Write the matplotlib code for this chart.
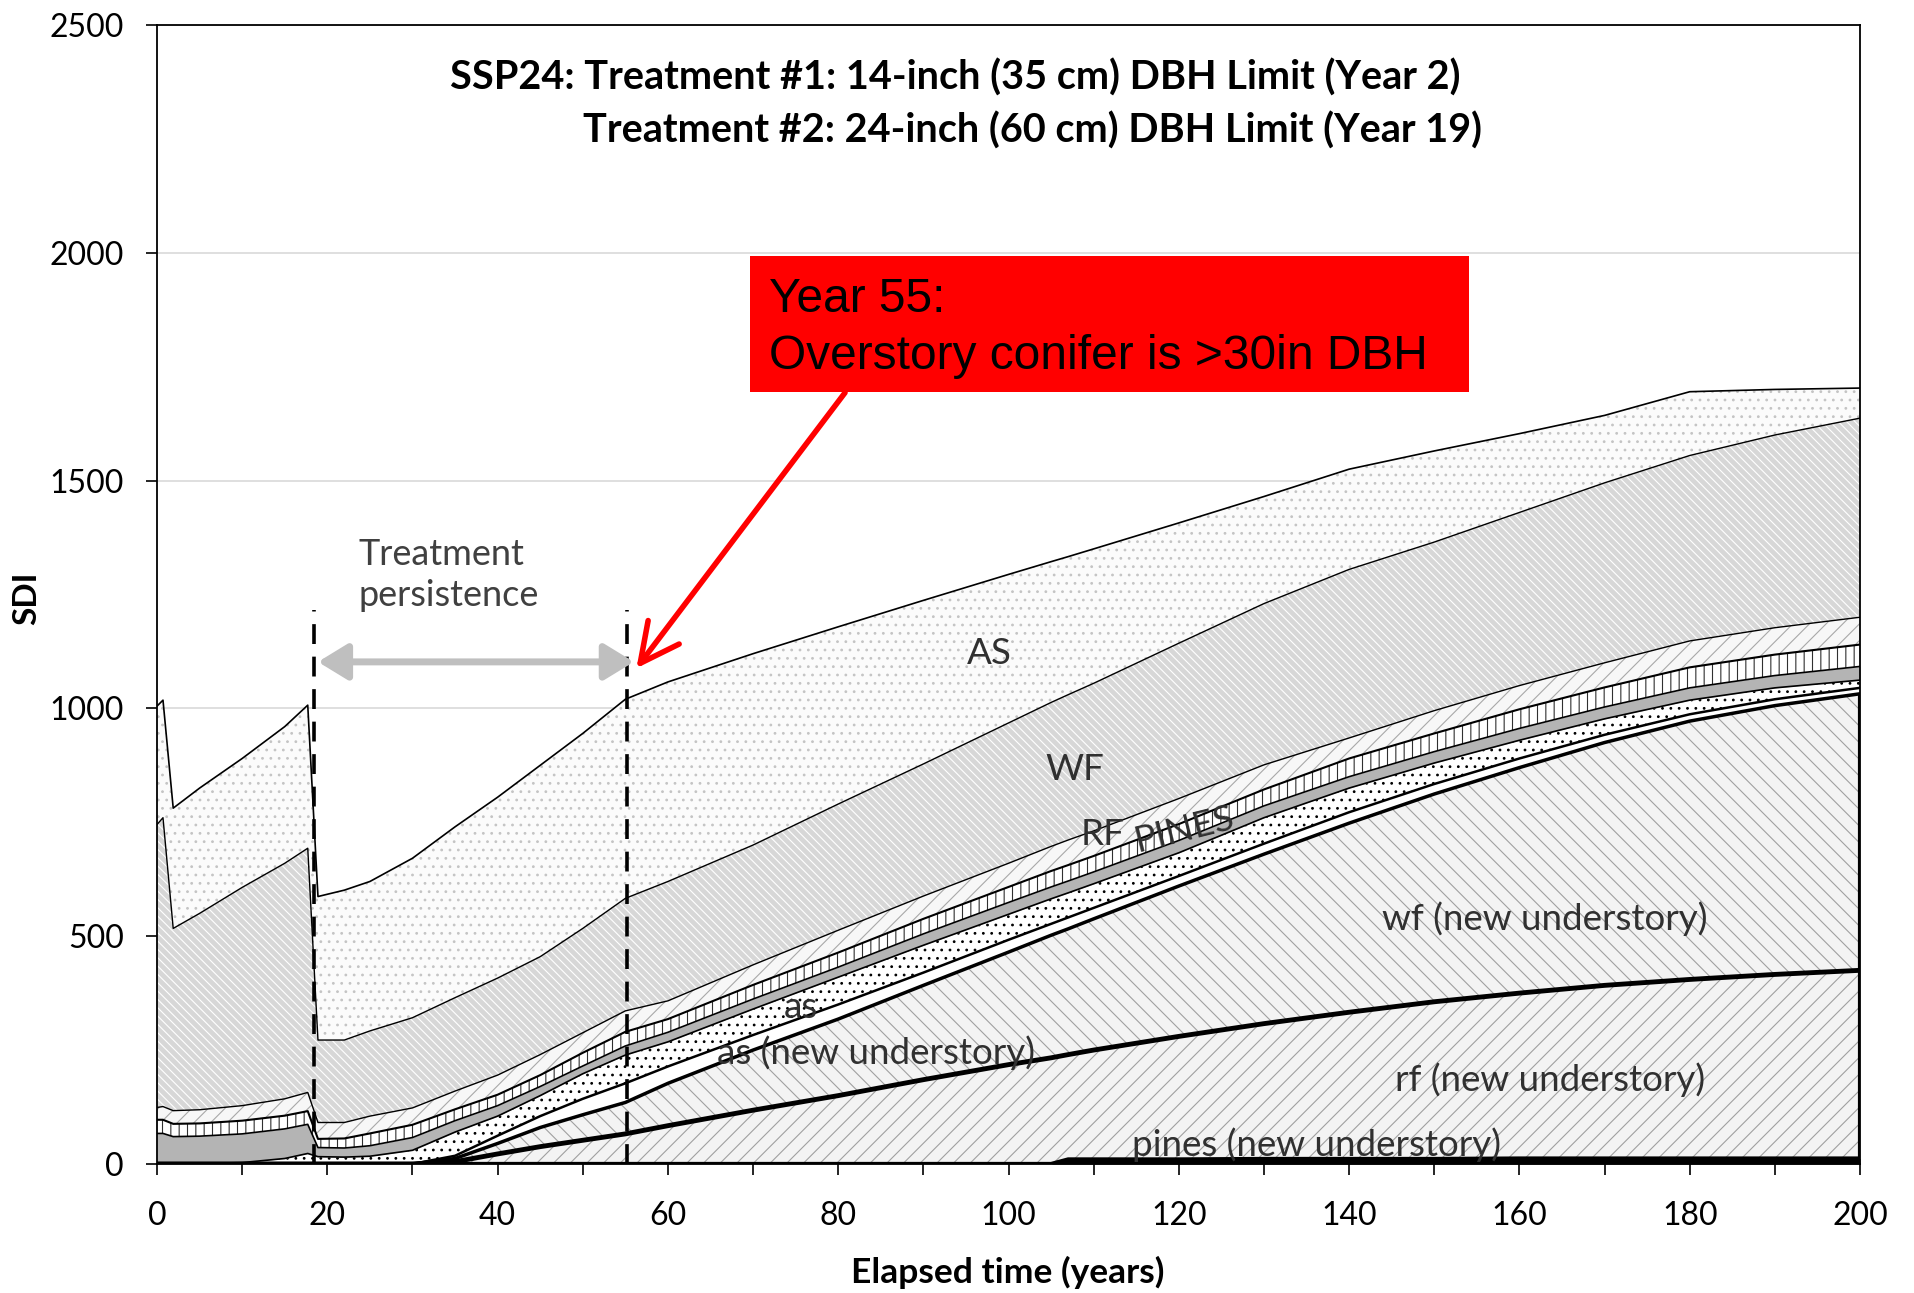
import numpy as np
import matplotlib.pyplot as plt
from matplotlib.patches import Rectangle
from matplotlib.ticker import MultipleLocator, FuncFormatter

plt.rcParams['font.family'] = ['Lato', 'DejaVu Sans']
plt.rcParams['hatch.linewidth'] = 0.8

# Stand SDI by species group over the simulation (years since start)
years = [0, 0.7, 1.9, 5, 10, 15, 17.7, 18.9, 22, 25, 30, 35, 40, 45, 50, 55, 60,
         70, 80, 90, 100, 105, 107, 110, 120, 130, 140, 150, 160, 170, 180, 190, 200]

pines_new = [0] * 22 + [10, 10, 10, 11, 11, 11, 12, 12, 12, 12, 12]
rf_new = [0] * 11 + [5, 22, 38, 52, 66, 84, 118, 150, 185, 218, 233, 230, 240, 270,
                     297, 322, 345, 363, 380, 393, 404, 413]
wf_new = [0] * 11 + [7, 23, 42, 56, 69, 93, 132, 168, 207, 247, 269, 276, 288, 330,
                     372, 415, 456, 495, 533, 567, 590, 607]
as_new = [0] * 11 + [6, 17, 25, 35, 42, 37, 33, 32, 28, 27, 25, 25, 24, 22,
                     23, 24, 22, 20, 17, 15, 14, 13]
as_low = [0, 0, 0, 1, 3, 12, 23, 16, 15, 17, 30, 52, 43, 45, 55, 62, 54,
          57, 60, 60, 56, 55, 54, 53, 51, 57, 53, 46, 40, 35, 31, 25, 17]
pines = [67, 67, 60, 60, 63, 65, 64, 20, 20, 23, 28, 25, 23, 20, 17, 20, 21,
         22, 22, 25, 26, 26, 26, 26, 27, 26, 25, 25, 26, 26, 27, 27, 30]
rf = [30, 30, 28, 28, 29, 29, 29, 19, 21, 27, 28, 25, 24, 25, 29, 31, 29,
      31, 32, 33, 34, 35, 35, 35, 36, 36, 40, 40, 42, 43, 45, 46, 48]
other = [27, 29, 29, 30, 33, 37, 41, 36, 35, 38, 37, 40, 43, 45, 44, 46, 40,
         44, 49, 50, 52, 54, 55, 55, 56, 54, 45, 50, 52, 54, 58, 59, 60]
wf = [621, 634, 400, 431, 479, 517, 536, 181, 181, 187, 198, 205, 213, 215, 229, 247, 262,
      263, 277, 290, 308, 316, 319, 324, 341, 354, 370, 370, 380, 395, 407, 423, 437]
as_up = [260, 258, 264, 275, 283, 300, 314, 315, 329, 328, 350, 375, 397, 420, 428, 437, 438,
         420, 389, 359, 326, 309, 303, 295, 264, 235, 220, 200, 173, 148, 140, 100, 66]

# bottom to top: values, face colour, hatch, hatch colour, outline width
layers = [
    (pines_new, 'black', None, 'black', 3.0),
    (rf_new, '#f3f3f3', '//', '#a0a0a0', 3.5),
    (wf_new, '#f3f3f3', '\\\\', '#a0a0a0', 2.5),
    (as_new, 'white', None, 'white', 1.8),
    (as_low, 'white', '..', 'black', 1.2),
    (pines, '#b4b4b4', None, '#b4b4b4', 1.2),
    (rf, 'white', '||', '#303030', 1.5),
    (other, '#f7f7f7', '//', '#a8a8a8', 1.0),
    (wf, '#d7d7d7', '\\\\\\\\', 'white', 1.0),
    (as_up, '#fbfbfb', '..', '#c4c4c4', 1.2),
]

fig = plt.figure(figsize=(19.15, 12.93), dpi=100)
ax = fig.add_axes([0.082, 0.0998, 0.8893, 0.8809])

x = np.array(years)
base = np.zeros(len(x))
for vals, face, hatch, hcol, lw in layers:
    top = base + np.array(vals)
    ax.fill_between(x, base, top, facecolor=face, edgecolor=hcol, hatch=hatch,
                    linewidth=0, zorder=2)
    ax.plot(x, top, color='black', lw=lw, zorder=3)
    base = top

# right edge of the new understory block
edge = np.array(pines_new) + np.array(rf_new) + np.array(wf_new)
ax.vlines(200, 0, edge[-1], color='black', lw=3, zorder=3)

ax.set_xlim(0, 200)
ax.set_ylim(0, 2500)
ax.yaxis.set_major_locator(MultipleLocator(500))
ax.xaxis.set_major_locator(MultipleLocator(10))
ax.xaxis.set_major_formatter(FuncFormatter(lambda v, p: '%d' % v if v % 20 == 0 else ''))
ax.grid(axis='y', color='#d9d9d9', lw=1.2, zorder=0)
ax.set_axisbelow(True)
ax.tick_params(labelsize=23, length=8, width=1.2, direction='out')
ax.tick_params(axis='y', pad=16)
ax.tick_params(axis='x', pad=19)
for s in ax.spines.values():
    s.set_linewidth(1.3)

fig.text(0.014, 0.5375, 'SDI', rotation=90, fontsize=24, fontweight='bold',
         ha='center', va='center')
fig.text(0.526, 0.016, 'Elapsed time (years)', fontsize=25.5, fontweight='bold',
         ha='center', va='center')

ax.text(93.7, 2385, 'SSP24: Treatment #1: 14-inch (35 cm) DBH Limit (Year 2)',
        fontsize=28.5, fontweight='bold', ha='center', va='center')
ax.text(102.8, 2267, 'Treatment #2: 24-inch (60 cm) DBH Limit (Year 19)',
        fontsize=28.5, fontweight='bold', ha='center', va='center')

# treatment markers
for yr in (18.4, 55.2):
    ax.plot([yr, yr], [0, 1216], color='black', lw=2.6, ls=(0, (5.5, 3.5)), zorder=5)
ax.annotate('', xy=(56.0, 1102), xytext=(18.9, 1102),
            arrowprops=dict(arrowstyle='<|-|>,head_length=0.9,head_width=0.55',
                            color='#bfbfbf', lw=5, shrinkA=0, shrinkB=0,
                            mutation_scale=20), zorder=5)
ax.text(23.7, 1293, 'Treatment\npersistence', fontsize=26, color='#404040',
        ha='left', va='center', linespacing=1.3)

# callout
ax.add_patch(Rectangle((69.6, 1695), 84.5, 298, facecolor='#ff0000',
                       edgecolor='none', zorder=6))
ax.text(71.9, 1871, 'Year 55:', fontsize=34.5, family='Liberation Sans',
        va='baseline', ha='left', zorder=7)
ax.text(71.9, 1744, 'Overstory conifer is >30in DBH', fontsize=34.5,
        family='Liberation Sans', va='baseline', ha='left', zorder=7)
ax.annotate('', xy=(56.3, 1088), xytext=(80.8, 1693),
            arrowprops=dict(arrowstyle='->,head_length=1.4,head_width=0.7',
                            color='#ff0000', lw=4, shrinkA=0, shrinkB=0,
                            mutation_scale=20), zorder=6)

# species labels
lab = dict(fontsize=26.5, color='#303030', ha='center', va='center', zorder=6)
ax.text(97.8, 1120, 'AS', **lab)
ax.text(107.8, 865, 'WF', **lab)
ax.text(111.1, 723, 'RF', **lab)
ax.text(120.7, 733, 'PINES', rotation=14, **lab)
ax.text(75.6, 343, 'as', **lab)
ax.text(84.4, 244, 'as (new understory)', **lab)
ax.text(163.0, 539, 'wf (new understory)', **lab)
ax.text(163.6, 185, 'rf (new understory)', **lab)
ax.text(136.2, 43, 'pines (new understory)', **lab)

fig.savefig('out.png', dpi=100)
